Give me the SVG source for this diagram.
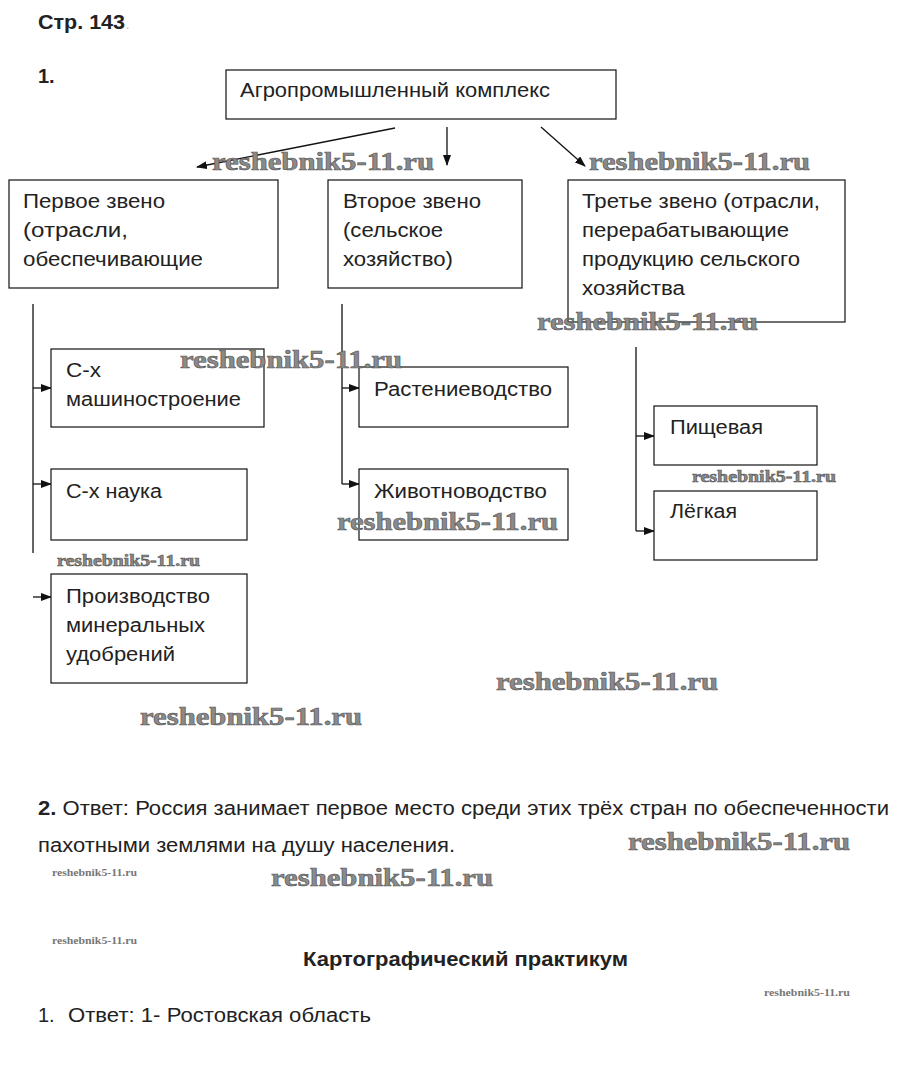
<svg xmlns="http://www.w3.org/2000/svg" width="899" height="1078" viewBox="0 0 899 1078">
<defs>
<marker id="ah" markerWidth="11" markerHeight="8" refX="10" refY="4" orient="auto" markerUnits="userSpaceOnUse">
<path d="M0,0 L11,4 L0,8 Z" fill="#111"/>
</marker>
<style>
.box{fill:#fff;stroke:#111;stroke-width:1.2}
.t{font-family:"Liberation Sans",Arial,sans-serif;font-size:20px;fill:#222}
.b{font-family:"Liberation Sans",Arial,sans-serif;font-weight:bold;fill:#222}
.c{stroke:#111;stroke-width:1.3;fill:none}
.ca{stroke:#111;stroke-width:1.3;fill:none;marker-end:url(#ah)}
.w{font-family:"Liberation Serif","Times New Roman",serif;font-weight:bold;fill:#8a8a8a;stroke:#555;stroke-width:0.6}
.ws{font-family:"Liberation Serif","Times New Roman",serif;font-weight:bold;fill:#777}
.n{font-family:"Liberation Sans",Arial,sans-serif;font-size:20px;fill:#222}
</style>
</defs>
<rect width="899" height="1078" fill="#fff"/>
<text class="b" x="38" y="29" font-size="20" textLength="87" lengthAdjust="spacingAndGlyphs">Стр. 143</text>
<text x="126" y="29" font-family="Liberation Sans,Arial,sans-serif" font-size="12" fill="#aaa">.</text>
<text class="b" x="38" y="83" font-size="20">1.</text>

<g id="connectors">
<line class="ca" x1="395" y1="128" x2="197" y2="167"/>
<line class="ca" x1="447" y1="127" x2="447" y2="165"/>
<line class="ca" x1="541" y1="127" x2="585" y2="166"/>
<line class="c" x1="33" y1="304" x2="33" y2="553"/>
<line class="ca" x1="33" y1="388" x2="51" y2="388"/>
<line class="ca" x1="33" y1="484" x2="51" y2="484"/>
<line class="ca" x1="33" y1="597" x2="51" y2="597"/>
<path class="c" d="M342,304 V484"/>
<line class="ca" x1="342" y1="388" x2="359" y2="388"/>
<line class="ca" x1="342" y1="484" x2="359" y2="484"/>
<path class="c" d="M636,347 V531"/>
<line class="ca" x1="636" y1="436" x2="654" y2="436"/>
<line class="ca" x1="636" y1="531" x2="654" y2="531"/>
</g>

<g id="node-apk"><rect class="box" x="226" y="70" width="390" height="49"/><text class="t" x="240" y="97" textLength="310" lengthAdjust="spacingAndGlyphs">Агропромышленный комплекс</text></g>
<g id="node-first"><rect class="box" x="9" y="180" width="269" height="108"/><text class="t" x="23" y="208" textLength="142" lengthAdjust="spacingAndGlyphs">Первое звено</text><text class="t" x="23" y="237" textLength="105" lengthAdjust="spacingAndGlyphs">(отрасли,</text><text class="t" x="23" y="266" textLength="180" lengthAdjust="spacingAndGlyphs">обеспечивающие</text></g>
<g id="node-second"><rect class="box" x="328" y="180" width="194" height="108"/><text class="t" x="343" y="208" textLength="138" lengthAdjust="spacingAndGlyphs">Второе звено</text><text class="t" x="343" y="237" textLength="100" lengthAdjust="spacingAndGlyphs">(сельское</text><text class="t" x="343" y="266" textLength="110" lengthAdjust="spacingAndGlyphs">хозяйство)</text></g>
<g id="node-third"><rect class="box" x="568" y="180" width="277" height="142"/><text class="t" x="582" y="208" textLength="238" lengthAdjust="spacingAndGlyphs">Третье звено (отрасли,</text><text class="t" x="582" y="237" textLength="207" lengthAdjust="spacingAndGlyphs">перерабатывающие</text><text class="t" x="582" y="266" textLength="218" lengthAdjust="spacingAndGlyphs">продукцию сельского</text><text class="t" x="582" y="295" textLength="103" lengthAdjust="spacingAndGlyphs">хозяйства</text></g>
<g id="node-mash"><rect class="box" x="51" y="349" width="213" height="78"/><text class="t" x="66" y="377" textLength="35" lengthAdjust="spacingAndGlyphs">С-х</text><text class="t" x="66" y="406" textLength="175" lengthAdjust="spacingAndGlyphs">машиностроение</text></g>
<g id="node-nauka"><rect class="box" x="51" y="469" width="196" height="71"/><text class="t" x="66" y="498" textLength="96" lengthAdjust="spacingAndGlyphs">С-х наука</text></g>
<g id="node-udobr"><rect class="box" x="51" y="574" width="196" height="109"/><text class="t" x="66" y="603" textLength="144" lengthAdjust="spacingAndGlyphs">Производство</text><text class="t" x="66" y="632" textLength="139" lengthAdjust="spacingAndGlyphs">минеральных</text><text class="t" x="66" y="661" textLength="109" lengthAdjust="spacingAndGlyphs">удобрений</text></g>
<g id="node-rast"><rect class="box" x="359" y="367" width="209" height="60"/><text class="t" x="374" y="396" textLength="178" lengthAdjust="spacingAndGlyphs">Растениеводство</text></g>
<g id="node-zhiv"><rect class="box" x="359" y="469" width="209" height="71"/><text class="t" x="374" y="498" textLength="173" lengthAdjust="spacingAndGlyphs">Животноводство</text></g>
<g id="node-pishch"><rect class="box" x="654" y="406" width="163" height="59"/><text class="t" x="670" y="434" textLength="93" lengthAdjust="spacingAndGlyphs">Пищевая</text></g>
<g id="node-legk"><rect class="box" x="654" y="491" width="163" height="69"/><text class="t" x="670" y="518" textLength="67" lengthAdjust="spacingAndGlyphs">Лёгкая</text></g>

<g id="text">
<text class="n" x="38" y="815" textLength="851" lengthAdjust="spacingAndGlyphs"><tspan font-weight="bold">2.</tspan> Ответ: Россия занимает первое место среди этих трёх стран по обеспеченности</text>
<text class="n" x="38" y="852" textLength="417" lengthAdjust="spacingAndGlyphs">пахотными землями на душу населения.</text>
<text class="n" x="303" y="966" font-weight="bold" textLength="325" lengthAdjust="spacingAndGlyphs">Картографический практикум</text>
<text class="n" x="38" y="1022">1.</text>
<text class="n" x="68" y="1022" textLength="303" lengthAdjust="spacingAndGlyphs">Ответ: 1- Ростовская область</text>
</g>

<g id="watermarks">
<text class="w" x="212" y="170" font-size="26" textLength="222" lengthAdjust="spacingAndGlyphs">reshebnik5-11.ru</text>
<text class="w" x="589" y="170" font-size="26" textLength="221" lengthAdjust="spacingAndGlyphs">reshebnik5-11.ru</text>
<text class="w" x="537" y="330" font-size="26" textLength="221" lengthAdjust="spacingAndGlyphs">reshebnik5-11.ru</text>
<text class="w" x="180" y="368" font-size="26" textLength="222" lengthAdjust="spacingAndGlyphs">reshebnik5-11.ru</text>
<text class="w" x="692" y="482" font-size="17" textLength="144" lengthAdjust="spacingAndGlyphs">reshebnik5-11.ru</text>
<text class="w" x="337" y="530" font-size="26" textLength="221" lengthAdjust="spacingAndGlyphs">reshebnik5-11.ru</text>
<text class="w" x="57" y="566" font-size="17" textLength="143" lengthAdjust="spacingAndGlyphs">reshebnik5-11.ru</text>
<text class="w" x="496" y="690" font-size="26" textLength="222" lengthAdjust="spacingAndGlyphs">reshebnik5-11.ru</text>
<text class="w" x="140" y="725" font-size="26" textLength="222" lengthAdjust="spacingAndGlyphs">reshebnik5-11.ru</text>
<text class="w" x="628" y="850" font-size="26" textLength="222" lengthAdjust="spacingAndGlyphs">reshebnik5-11.ru</text>
<text class="ws" x="52" y="876" font-size="10" textLength="85" lengthAdjust="spacingAndGlyphs">reshebnik5-11.ru</text>
<text class="w" x="271" y="886" font-size="26" textLength="222" lengthAdjust="spacingAndGlyphs">reshebnik5-11.ru</text>
<text class="ws" x="52" y="944" font-size="10" textLength="85" lengthAdjust="spacingAndGlyphs">reshebnik5-11.ru</text>
<text class="ws" x="764" y="996" font-size="10" textLength="86" lengthAdjust="spacingAndGlyphs">reshebnik5-11.ru</text>
</g>
</svg>
